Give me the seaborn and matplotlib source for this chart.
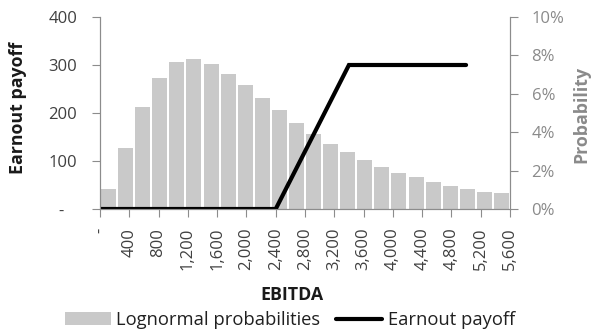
import matplotlib
matplotlib.use("Agg")
import matplotlib.pyplot as plt
import seaborn as sns
import numpy as np
from matplotlib.patches import Patch
from matplotlib.lines import Line2D
from matplotlib.ticker import FixedLocator

# ---- data ----
probabilities_pct = [1.05, 3.17, 5.30, 6.82, 7.66, 7.80, 7.57, 7.05, 6.44, 5.78, 5.17, 4.47,
                     3.91, 3.39, 2.96, 2.57, 2.17, 1.88, 1.65, 1.43, 1.18, 1.04, 0.90, 0.82]
payoff_ebitda = [0, 2400, 3400, 5000]
payoff_values = [0, 0, 300, 300]
x_tick_values = [0, 400, 800, 1200, 1600, 2000, 2400, 2800, 3200, 3600, 4000, 4400, 4800, 5200, 5600]
left_ticks = [0, 100, 200, 300, 400]
right_ticks = [0.0, 0.02, 0.04, 0.06, 0.08, 0.10]

sns.set_style("ticks")
plt.rcParams['font.family'] = ['Open Sans', 'DejaVu Sans']

GRAY_BAR = "#C9C9C9"
SPINE = "#8C8C8C"
DARK = "#404040"
LIGHT = "#8A8A8A"
TICK_FS = 12

fig = plt.figure(figsize=(5.99, 3.32), dpi=100)
ax = fig.add_axes([100/599, 1-209/332, 410/599, 192/332])
ax2 = ax.twinx()

x_max = x_tick_values[-1]
n = len(probabilities_pct)
slot = x_max / n
centers = [(i + 0.5) * slot for i in range(n)]
probs = [p / 100 for p in probabilities_pct]

sns.barplot(x=centers, y=probs, native_scale=True, ax=ax2, color=GRAY_BAR,
            width=0.88, saturation=1, edgecolor="none", linewidth=0)
sns.lineplot(x=payoff_ebitda, y=payoff_values, ax=ax, color="black", linewidth=3.0,
             solid_capstyle="round", solid_joinstyle="miter")

ax.set_zorder(ax2.get_zorder() + 1)
ax.patch.set_visible(False)

ax.set_xlim(0, x_max)
ax.set_ylim(0, 400)
ax2.set_ylim(0, 0.10)

ax.xaxis.set_major_locator(FixedLocator(x_tick_values))
ax.set_xticklabels(["-" if v == 0 else f"{v:,}" for v in x_tick_values], rotation=90,
                   fontsize=TICK_FS, color=DARK)
ax.yaxis.set_major_locator(FixedLocator(left_ticks))
ax.set_yticklabels(["-   " if v == 0 else f"{v}" for v in left_ticks], fontsize=TICK_FS, color=DARK)
ax2.yaxis.set_major_locator(FixedLocator(right_ticks))
ax2.set_yticklabels([f"{v*100:.0f}%" for v in right_ticks], fontsize=TICK_FS, color=LIGHT)

for a in (ax, ax2):
    a.tick_params(axis="both", length=5.5, width=0.8, color=SPINE)
    for s in a.spines.values():
        s.set_color(SPINE)
        s.set_linewidth(0.8)
    a.spines["top"].set_visible(False)
ax.tick_params(axis="y", pad=11)
ax2.tick_params(axis="y", pad=10)
ax.tick_params(axis="x", pad=8)

ax.set_xlabel("EBITDA", fontsize=12.8, fontweight="bold", color="#1A1A1A")
ax.set_ylabel("Earnout payoff", fontsize=12.8, fontweight="bold", color="#1A1A1A")
ax2.set_ylabel("Probability", fontsize=12.8, fontweight="bold", color=LIGHT)
ax.xaxis.set_label_coords(0.468, -0.40)
ax.yaxis.set_label_coords(-0.178, 0.529)
ax2.yaxis.set_label_coords(1.151, 0.495)

handles = [Patch(facecolor=GRAY_BAR, edgecolor="none"),
           Line2D([0], [0], color="black", linewidth=3.0, solid_capstyle="round")]
fig.legend(handles, ["Lognormal probabilities", "Earnout payoff"], loc="center",
           bbox_to_anchor=(0.484, 0.036), ncol=2, frameon=False, fontsize=13.2,
           handlelength=2.5, handletextpad=0.3, columnspacing=0.85, labelcolor="#202020")

fig.savefig("out.png", dpi=100)
